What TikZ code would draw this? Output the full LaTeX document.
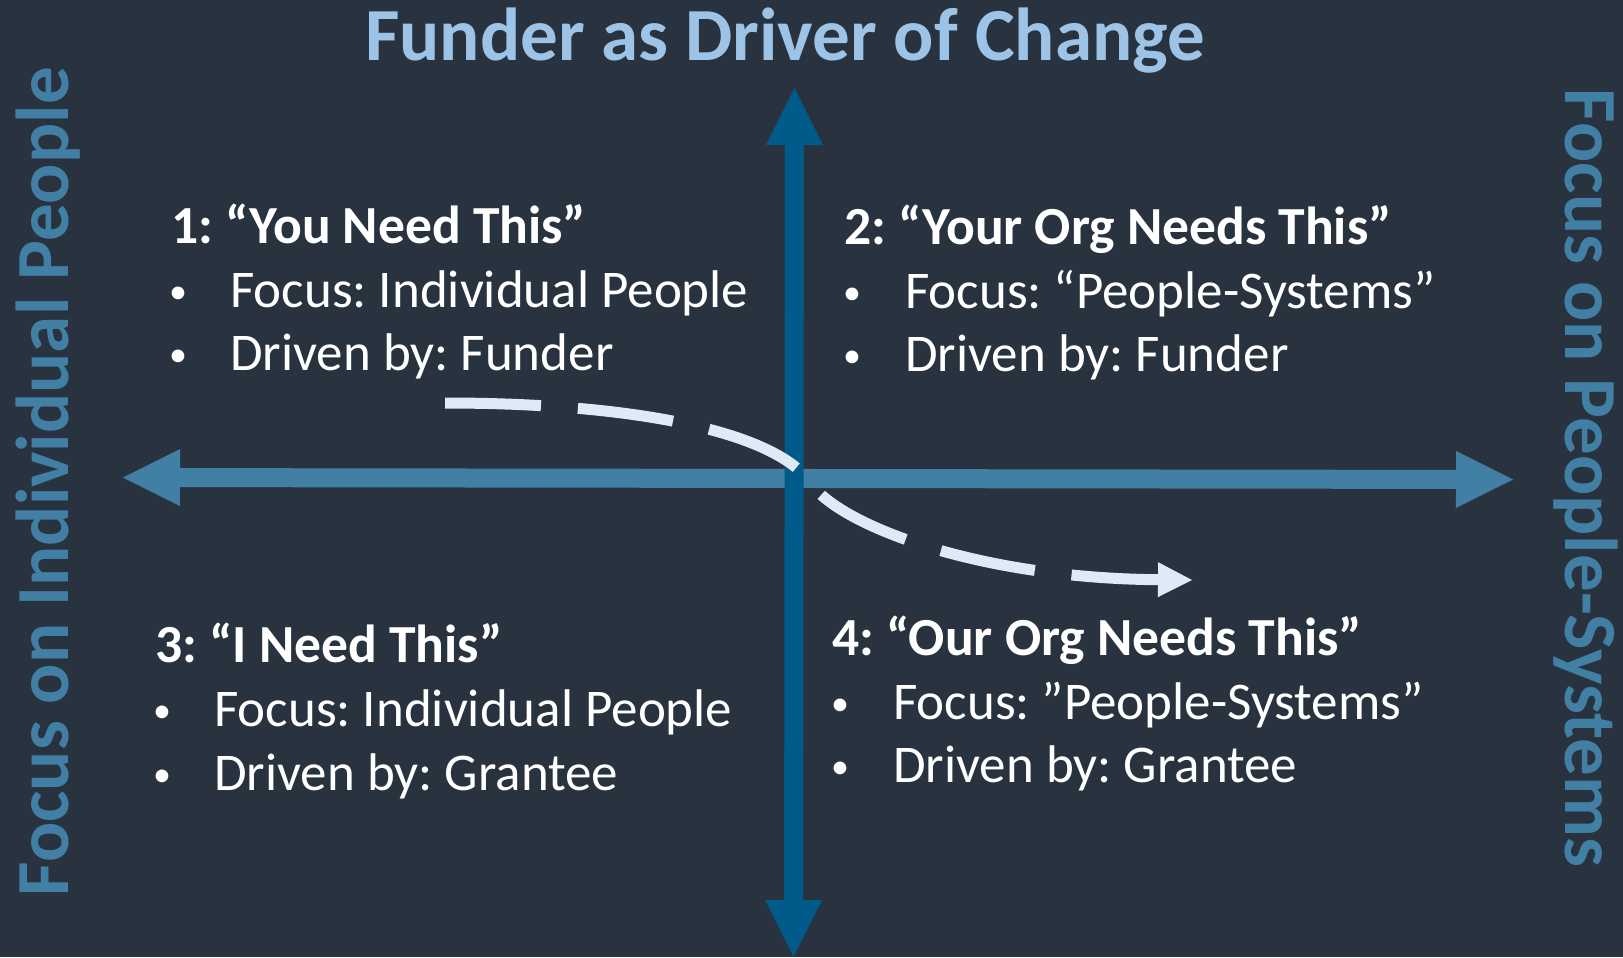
\documentclass[tikz,border=0pt]{standalone}
\usepackage{fontspec}
\setmainfont{Carlito}
\usetikzlibrary{arrows.meta}
\frenchspacing

\definecolor{bgcol}{RGB}{41,51,64}
\definecolor{axisH}{RGB}{65,127,164}
\definecolor{axisV}{RGB}{0,90,138}
\definecolor{titleblue}{RGB}{157,195,230}
\definecolor{pathwhite}{RGB}{222,235,247}

\tikzset{
  axisarrow/.style={line width=19bp,
    {Triangle[length=57bp,width=57bp,line width=0pt]}-{Triangle[length=57bp,width=57bp,line width=0pt]}},
  bigtitle/.style={font=\fontsize{75bp}{80bp}\selectfont\bfseries, text=titleblue, inner sep=0pt},
  sidelabel/.style={font=\fontsize{75bp}{80bp}\selectfont\bfseries, text=axisH, inner sep=0pt, anchor=base},
  qhead/.style={font=\fontsize{53.6bp}{60bp}\selectfont\bfseries, text=white, inner sep=0pt, anchor=base west},
  qitem/.style={font=\fontsize{53bp}{60bp}\selectfont, text=white, inner sep=0pt, anchor=base west},
  qdot/.style={font=\fontsize{36bp}{40bp}\selectfont, text=white, inner sep=0pt, anchor=base},
  journey/.style={draw=pathwhite, line width=11bp, dash pattern=on 96bp off 37bp,
    -{Triangle[length=34bp,width=35bp,line width=0pt]}}
}

\begin{document}
\begin{tikzpicture}[x=1bp,y=-1bp]
  \fill[bgcol] (0,0) rectangle (1623,957);
  \useasboundingbox (0,0) rectangle (1623,957);

  % axes
  \coordinate (hL) at (123,477.5);
  \coordinate (hR) at (1513,479.5);
  \coordinate (vT) at (794.5,88);
  \coordinate (vB) at (793.5,957);
  \draw[axisarrow, draw=axisH, fill=axisH] (hL) -- (hR);
  \draw[axisarrow, draw=axisV, fill=axisV] (vB) -- (vT);

  % title and axis labels
  \node[bigtitle, anchor=base] (title) at (785,60) {Funder as Driver of Change};
  \node[sidelabel, rotate=90] (leftlab) at (68,482) {Focus on Individual People};
  \node[sidelabel, rotate=-90] (rightlab) at (1565,478) {Focus on People-Systems};

  % quadrant 1
  \node[qhead] (q1h) at (171,243) {1: “You Need This”};
  \node[qdot] (q1b1) at (178,303) {•};
  \node[qitem] (q1a) at (230,307) {Focus: Individual People};
  \node[qdot] (q1b2) at (178,366) {•};
  \node[qitem] (q1c) at (230,370) {Driven by: Funder};

  % quadrant 2
  \node[qhead] (q2h) at (844,244) {2: “Your Org Needs This”};
  \node[qdot] (q2b1) at (852,304) {•};
  \node[qitem] (q2a) at (905,308) {Focus: “People-Systems”};
  \node[qdot] (q2b2) at (852,367) {•};
  \node[qitem] (q2c) at (905,371) {Driven by: Funder};

  % quadrant 3
  \node[qhead] (q3h) at (155,662) {3: “I Need This”};
  \node[qdot] (q3b1) at (162,722) {•};
  \node[qitem] (q3a) at (214,726) {Focus: Individual People};
  \node[qdot] (q3b2) at (162,786) {•};
  \node[qitem] (q3c) at (214,790) {Driven by: Grantee};

  % quadrant 4
  \node[qhead] (q4h) at (832,655) {4: “Our Org Needs This”};
  \node[qdot] (q4b1) at (840,715) {•};
  \node[qitem] (q4a) at (893,719) {Focus: ”People-Systems”};
  \node[qdot] (q4b2) at (840,778) {•};
  \node[qitem] (q4c) at (893,782) {Driven by: Grantee};

  % dashed path from quadrant 1 to quadrant 4
  \coordinate (jStart) at (445,403);
  \coordinate (jMid) at (810,482);
  \coordinate (jEnd) at (1192,580);
  \draw[journey] (jStart) .. controls (640,403) and (775,433) .. (jMid)
                          .. controls (835,522) and (970,578) .. (jEnd);
\end{tikzpicture}
\end{document}
